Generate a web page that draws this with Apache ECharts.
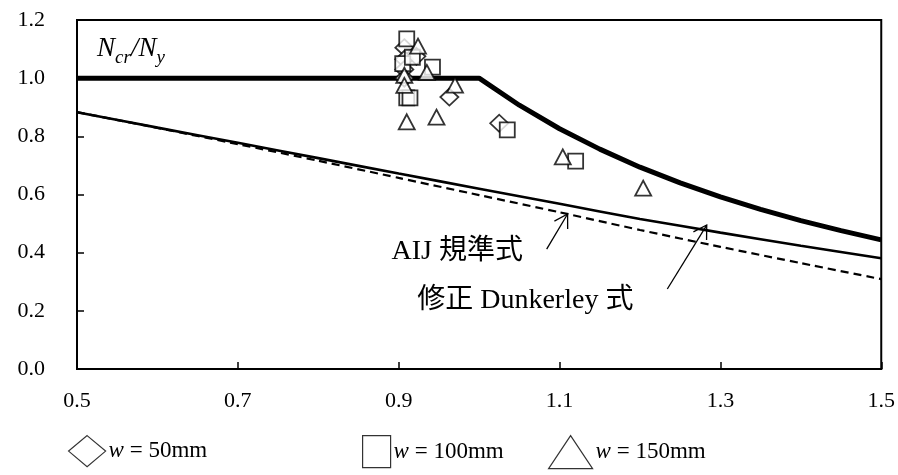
<!DOCTYPE html>
<html><head><meta charset="utf-8">
<script src="https://cdn.jsdelivr.net/npm/echarts@6/dist/echarts.min.js"></script>
<style>html,body{margin:0;padding:0;background:#fff}#c{width:898px;height:475px}</style>
</head><body><div id="c"></div>
<script>
// ---- data ----
const xTickValues = [0.5, 0.7, 0.9, 1.1, 1.3, 1.5];
const yTickValues = [0.0, 0.2, 0.4, 0.6, 0.8, 1.0, 1.2];

// thick curve (proposed)
const thickX = [0.5, 1.0, 1.05, 1.1, 1.15, 1.2, 1.25, 1.3, 1.35, 1.4, 1.45, 1.5];
const thickY = [1.0, 1.0, 0.907, 0.826, 0.756, 0.694, 0.640, 0.592, 0.549, 0.510, 0.476, 0.444];

// AIJ (thin solid) and modified Dunkerley (dashed)
const thinX  = [0.5, 0.6, 0.7, 0.8, 0.9, 1.0, 1.1, 1.2, 1.3, 1.4, 1.5];
const aijY   = [0.883, 0.830, 0.778, 0.725, 0.672, 0.620, 0.568, 0.516, 0.469, 0.424, 0.381];
const dunkY  = [0.883, 0.829, 0.773, 0.716, 0.657, 0.598, 0.539, 0.478, 0.420, 0.364, 0.309];

// test points
const w50X  = [0.907, 0.907, 0.907, 0.907, 0.922, 0.963, 1.025];
const w50Y  = [1.105, 1.065, 1.030, 1.000, 1.075, 0.935, 0.845];
const w100X = [0.910, 0.905, 0.917, 0.942, 0.910, 0.914, 1.035, 1.120];
const w100Y = [1.135, 1.050, 1.072, 1.038, 0.932, 0.932, 0.822, 0.715];
const w150X = [0.924, 0.935, 0.907, 0.907, 0.970, 0.910, 0.947, 1.104, 1.204];
const w150Y = [1.110, 1.020, 1.010, 0.975, 0.976, 0.850, 0.866, 0.729, 0.622];

const seriesNames = ['w = 50mm', 'w = 100mm', 'w = 150mm'];

// annotations (data coordinates)
const labelAIJ  = {text: 'AIJ 規準式', at: [0.891, 0.402]};
const labelDunk = {text: '修正 Dunkerley 式', at: [0.923, 0.235]};
const labelAxis = {at: [0.525, 1.107]};
const arrowAIJ  = {from: [1.084, 0.412], to: [1.110, 0.533]};
const arrowDunk = {from: [1.234, 0.275], to: [1.283, 0.495]};

// ---- chart ----
const FONT = "'Liberation Serif','Times New Roman','Noto Sans CJK JP',serif";
const zip = (xs, ys) => xs.map((x, i) => [x, ys[i]]);
const chart = echarts.init(document.getElementById('c'), null, {renderer: 'canvas'});

const markerStyle = {color: '#fff', borderColor: '#000', borderWidth: 1.8};
function legendFor(name, icon, left, w, h) {
  return {
    data: [name], left: left, top: 430, icon: icon,
    itemWidth: w, itemHeight: h, itemGap: 0,
    itemStyle: {color: '#fff', borderColor: '#000', borderWidth: 1.2},
    textStyle: {fontFamily: FONT, fontSize: 23, color: '#000', padding: [0, 0, 0, -2],
      rich: {i: {fontFamily: FONT, fontSize: 23, fontStyle: 'italic', color: '#000'}}},
    formatter: n => n.replace('w', '{i|w}')
  };
}

chart.setOption({
  animation: false,
  backgroundColor: '#fff',
  grid: {left: 77, right: 16, top: 20, bottom: 106, show: true, borderColor: '#000', borderWidth: 2, containLabel: false},
  xAxis: {
    type: 'value', min: xTickValues[0], max: xTickValues[xTickValues.length - 1], interval: 0.2,
    axisLine: {show: true, lineStyle: {color: '#000', width: 2}},
    axisTick: {show: true, inside: true, length: 7, lineStyle: {color: '#000', width: 1.5}},
    splitLine: {show: false},
    axisLabel: {margin: 21, fontFamily: FONT, fontSize: 22, color: '#000', formatter: v => v.toFixed(1)}
  },
  yAxis: {
    type: 'value', min: yTickValues[0], max: yTickValues[yTickValues.length - 1], interval: 0.2,
    axisLine: {show: true, lineStyle: {color: '#000', width: 2}},
    axisTick: {show: true, inside: true, length: 7, lineStyle: {color: '#000', width: 1.5}},
    splitLine: {show: false},
    axisLabel: {margin: 32, fontFamily: FONT, fontSize: 22, color: '#000', formatter: v => v.toFixed(1)}
  },
  legend: [
    legendFor(seriesNames[0], 'diamond', 63, 37, 31),
    legendFor(seriesNames[1], 'rect', 357, 28, 32),
    legendFor(seriesNames[2], 'triangle', 543, 44, 33)
  ],
  series: [
    {type: 'line', name: 'dunk', data: zip(thinX, dunkY), showSymbol: false, symbol: 'none',
      lineStyle: {color: '#000', width: 2.2, type: [8, 5]}, smooth: 0.2, z: 1},
    {type: 'line', name: 'aij', data: zip(thinX, aijY), showSymbol: false, symbol: 'none',
      lineStyle: {color: '#000', width: 2.6}, smooth: 0.2, z: 1},
    {type: 'line', name: 'thick', data: zip(thickX, thickY), showSymbol: false, symbol: 'none',
      lineStyle: {color: '#000', width: 5}, z: 1},
    {type: 'scatter', name: seriesNames[0], data: zip(w50X, w50Y), symbol: 'diamond', symbolSize: [18, 17], itemStyle: markerStyle, z: 3},
    {type: 'scatter', name: seriesNames[1], data: zip(w100X, w100Y), symbol: 'rect', symbolSize: [15, 15], itemStyle: markerStyle, z: 3},
    {type: 'scatter', name: seriesNames[2], data: zip(w150X, w150Y), symbol: 'triangle', symbolSize: [16, 15], itemStyle: markerStyle, z: 3}
  ]
});

// annotations placed through the chart's own coordinate conversion
function px(p) { return chart.convertToPixel({gridIndex: 0}, p); }
function arrowEls(a) {
  const t = px(a.from), h = px(a.to);
  const dx = t[0] - h[0], dy = t[1] - h[1], L = Math.hypot(dx, dy);
  const ux = dx / L, uy = dy / L, ang = 31 * Math.PI / 180, len = 15;
  const rot = s => [h[0] + len * (ux * Math.cos(s) - uy * Math.sin(s)), h[1] + len * (ux * Math.sin(s) + uy * Math.cos(s))];
  const s = {stroke: '#000', lineWidth: 1.3, fill: null};
  return [
    {type: 'polyline', shape: {points: [t, h]}, style: s, z: 10},
    {type: 'polyline', shape: {points: [rot(ang), h, rot(-ang)]}, style: s, z: 10}
  ];
}
const pA = px(labelAIJ.at), pD = px(labelDunk.at), pN = px(labelAxis.at);
chart.setOption({
  graphic: [
    {type: 'text', x: pA[0], y: pA[1], z: 10, style: {text: labelAIJ.text, fontFamily: FONT, fontSize: 28, fill: '#000', verticalAlign: 'middle'}},
    {type: 'text', x: pD[0], y: pD[1], z: 10, style: {text: labelDunk.text, fontFamily: FONT, fontSize: 28, fill: '#000', verticalAlign: 'middle'}},
    {type: 'text', x: pN[0], y: pN[1], z: 10, style: {
      text: '{n|N}{s|cr}{n|/N}{s|y}', fontFamily: FONT, verticalAlign: 'middle',
      rich: {
        n: {fontFamily: FONT, fontSize: 27, fontStyle: 'italic', fill: '#000', verticalAlign: 'bottom', lineHeight: 30},
        s: {fontFamily: FONT, fontSize: 19, fontStyle: 'italic', fill: '#000', verticalAlign: 'bottom', lineHeight: 19, padding: [0, 0, -5, 0]}
      }}},
    ...arrowEls(arrowAIJ),
    ...arrowEls(arrowDunk)
  ]
});
</script></body></html>
